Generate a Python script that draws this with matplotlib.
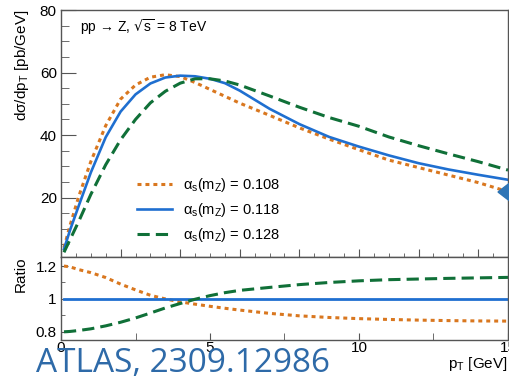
import matplotlib
matplotlib.use("Agg")
import matplotlib.pyplot as plt
import numpy as np
from matplotlib.patches import Polygon

plt.rcParams['font.family'] = ['Liberation Sans', 'DejaVu Sans']
plt.rcParams['mathtext.default'] = 'regular'

# pT grid (GeV) and differential cross sections (pb/GeV)
pt = [0.1, 0.3, 0.6, 1.0, 1.5, 2.0, 2.5, 3.0, 3.5, 4.0, 4.5, 5.0, 5.5,
      6.0, 7.0, 8.0, 9.0, 10, 11, 12, 13, 14, 15]
xs_108 = [4.0, 11.0, 20.5, 31.5, 43.0, 51.5, 56.0, 58.5, 59.3, 58.7, 56.8,
          54.6, 52.4, 50.2, 46.3, 42.3, 38.7, 35.3, 32.0, 29.6, 27.2, 24.8, 21.9]
xs_118 = [3.5, 9.5, 17.5, 28.0, 39.3, 47.5, 53.0, 56.5, 58.4, 59.0, 58.8,
          58.0, 56.6, 54.2, 48.4, 43.5, 39.4, 36.3, 33.5, 31.0, 29.0, 27.3, 25.7]
xs_128 = [2.5, 6.5, 12.5, 21.0, 30.5, 38.5, 45.0, 50.3, 54.0, 56.6, 58.0,
          58.0, 57.3, 56.0, 52.5, 48.9, 45.6, 42.8, 39.4, 36.6, 34.0, 31.5, 28.8]

# ratios to the central alpha_s curve
ratio_108 = [1.200, 1.195, 1.178, 1.160, 1.130, 1.090, 1.055, 1.022, 1.000, 0.982,
             0.968, 0.955, 0.943, 0.932, 0.912, 0.897, 0.887, 0.880, 0.875, 0.871,
             0.868, 0.866, 0.865]
ratio_128 = [0.800, 0.802, 0.808, 0.818, 0.836, 0.858, 0.884, 0.914, 0.945, 0.972,
             0.998, 1.020, 1.038, 1.052, 1.070, 1.087, 1.100, 1.110, 1.117, 1.121,
             1.125, 1.128, 1.131]

labels = [r'$\alpha_s(m_Z)$ = 0.108', r'$\alpha_s(m_Z)$ = 0.118', r'$\alpha_s(m_Z)$ = 0.128']
c_orange = '#d9771f'
c_blue = '#1f6fd0'
c_green = '#107038'
frame = '#555555'

fig = plt.figure(figsize=(5.1, 3.83), dpi=100)
ax = fig.add_axes([61/510, 1-257/383, 447/510, 247/383])
axr = fig.add_axes([61/510, 1-340/383, 447/510, 83/383])

# main panel
ax.plot(pt, xs_108, color=c_orange, lw=2.2, dashes=(1.3, 1.3), dash_capstyle='butt', label=labels[0])
ax.plot(pt, xs_118, color=c_blue, lw=1.9, label=labels[1])
ax.plot(pt, xs_128, color=c_green, lw=2.2, dashes=(4, 2), dash_capstyle='butt', label=labels[2])

ax.set_xlim(0, 15)
ax.set_ylim(1, 80)
ax.set_xticks(np.arange(0, 15, 2))
ax.set_xticks(np.arange(0, 15.01, 0.5), minor=True)
ax.set_xticklabels([])
ax.set_yticks([20, 40, 60, 80])
ax.set_yticks(np.arange(5, 80, 5), minor=True)
ax.tick_params(axis='y', which='major', direction='in', length=11, labelsize=11, pad=3, color=frame)
ax.tick_params(axis='y', which='minor', direction='in', length=6, color=frame)
ax.tick_params(axis='x', which='major', direction='in', length=6, color=frame)
ax.tick_params(axis='x', which='minor', direction='in', length=3, color=frame)
ax.set_ylabel(r'd$\sigma$/dp$_T$ [pb/GeV]', loc='top', fontsize=11, labelpad=6)

ax.text(0.043, 0.93, 'pp → Z, ' + r'$\sqrt{s}$ = 8 TeV', transform=ax.transAxes,
        fontsize=10, va='center', ha='left')

ax.legend(loc='center left', bbox_to_anchor=(0.170, 0.190), frameon=False,
          fontsize=10.5, handlelength=2.4, handletextpad=0.75, labelspacing=0.5,
          borderpad=0, borderaxespad=0)

# ratio panel
ratio_118 = np.array(xs_118) / np.array(xs_118)
axr.plot(pt, ratio_108, color=c_orange, lw=2.2, dashes=(1.3, 1.3), dash_capstyle='butt')
axr.plot(pt, ratio_118, color=c_blue, lw=2.0)
axr.plot(pt, ratio_128, color=c_green, lw=2.2, dashes=(4, 2), dash_capstyle='butt')

axr.set_xlim(0, 15)
axr.set_ylim(0.75, 1.255)
axr.set_xticks([0, 5, 10, 15])
axr.set_xticks([2.5, 7.5, 12.5], minor=True)
axr.set_yticks([0.8, 1.0, 1.2])
axr.set_yticklabels(['0.8', '1', '1.2'])
axr.set_yticks([0.9, 1.1], minor=True)
axr.tick_params(axis='x', which='both', direction='in', length=5, labelsize=11, pad=1, color=frame)
axr.tick_params(axis='y', which='major', direction='in', length=5, labelsize=11, pad=3, color=frame)
axr.tick_params(axis='y', which='minor', direction='in', length=3, color=frame)
axr.set_ylabel('Ratio', loc='top', fontsize=11, labelpad=6)
axr.set_xlabel(r'p$_T$ [GeV]', loc='right', fontsize=11, labelpad=0)

for a in (ax, axr):
    for s in a.spines.values():
        s.set_color(frame)
        s.set_linewidth(1.0)

# source note and slide pointer
fig.text(36/510, 1-372/383, 'ATLAS, 2309.12986', color='#2e6aa8', fontsize=24,
         family=['Open Sans', 'DejaVu Sans'], ha='left', va='baseline')
fig.patches.append(Polygon([[498/510, 1-192/383], [511/510, 1-182/383], [511/510, 1-202/383]],
                           closed=True, transform=fig.transFigure, color='#2e75b6', zorder=10))

fig.savefig('out.png', dpi=100)
